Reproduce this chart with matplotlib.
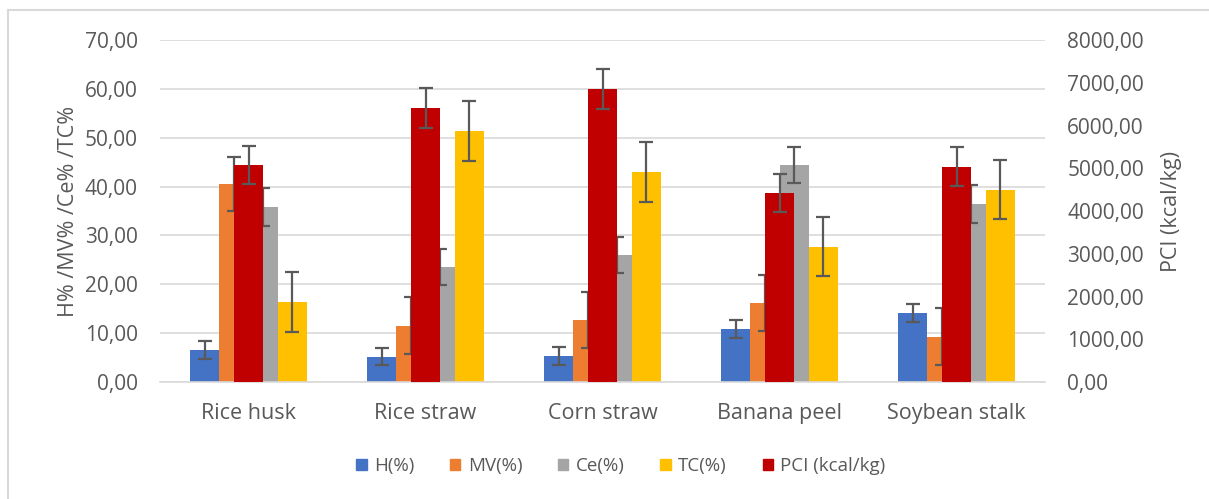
import numpy as np
import matplotlib
matplotlib.use("Agg")
import matplotlib.pyplot as plt
import matplotlib.ticker as mtick
from matplotlib.lines import Line2D
from matplotlib.patches import Patch

categories = ["Rice husk", "Rice straw", "Corn straw", "Banana peel", "Soybean stalk"]

h_pct   = [6.5, 5.2, 5.3, 10.8, 14.1]
mv_pct  = [40.5, 11.5, 12.7, 16.2, 9.3]
ce_pct  = [35.9, 23.6, 26.0, 44.4, 36.4]
tc_pct  = [16.4, 51.4, 43.0, 27.7, 39.4]
pci     = [5080, 6400, 6850, 4420, 5040]

h_err   = [1.8, 1.7, 1.9, 1.8, 1.9]
mv_err  = [5.6, 5.8, 5.8, 5.7, 5.9]
ce_err  = [3.9, 3.7, 3.75, 3.75, 3.9]
tc_err  = [6.1, 6.1, 6.1, 6.1, 6.1]
pci_err = [450, 470, 470, 450, 450]

left_series = [("H(%)", h_pct, h_err, "#4472C4"),
               ("MV(%)", mv_pct, mv_err, "#ED7D31"),
               ("Ce(%)", ce_pct, ce_err, "#A5A5A5"),
               ("TC(%)", tc_pct, tc_err, "#FFC000")]
pci_color = "#C00000"

TXT = "#595959"
ERR = "#595959"
plt.rcParams["font.family"] = ["Open Sans", "DejaVu Sans"]

fig = plt.figure(figsize=(12.09, 4.99), dpi=100)
ax = fig.add_axes([160/1209, 1 - 382/499, 885/1209, 342/499])
ax2 = ax.twinx()

x = np.arange(len(categories))
w = 0.165
offsets = [-1.5, -0.5, 0.5, 1.5]
ek = dict(ecolor=ERR, elinewidth=1.6, capsize=5, capthick=1.6)

for (name, vals, errs, col), off in zip(left_series, offsets):
    ax.bar(x + off*w, vals, w, color=col, zorder=2,
           yerr=errs, error_kw=ek)

ax2.bar(x, pci, w, color=pci_color, zorder=2, yerr=pci_err, error_kw=ek)

ax.set_xlim(-0.5, len(categories) - 0.5)
ax.set_ylim(0, 70)
ax2.set_ylim(0, 8000)
ax.set_yticks(np.arange(0, 71, 10))
ax2.set_yticks(np.arange(0, 8001, 1000))
fmt = mtick.FuncFormatter(lambda v, p: f"{v:.2f}".replace(".", ","))
ax.yaxis.set_major_formatter(fmt)
ax2.yaxis.set_major_formatter(fmt)

ax.yaxis.grid(True, color="#D9D9D9", linewidth=1.2, zorder=0)
ax.set_axisbelow(True)
for a in (ax, ax2):
    for s in a.spines.values():
        s.set_visible(False)
    a.tick_params(axis="y", length=0, colors=TXT, labelsize=15, pad=16)
ax.spines["bottom"].set_visible(True)
ax.spines["bottom"].set_color("#D9D9D9")
ax.spines["bottom"].set_linewidth(1.2)
ax.set_xticks(x)
ax.set_xticklabels(categories)
ax.tick_params(axis="x", length=0, colors=TXT, labelsize=15.5, pad=15)

ax.set_ylabel("H% /MV% /Ce% /TC%", color=TXT, fontsize=15.5, labelpad=4)
ax2.set_ylabel("PCI (kcal/kg)", color=TXT, fontsize=15.5, labelpad=12)

handles = [Patch(color=c) for _, _, _, c in left_series] + [Patch(color=pci_color)]
labels = [s[0] for s in left_series] + ["PCI (kcal/kg)"]
fig.legend(handles, labels, loc="center", bbox_to_anchor=(621/1209, 1 - 466/499),
           ncol=5, frameon=False, fontsize=13.5, labelcolor=TXT,
           handlelength=0.55, handleheight=0.55, handletextpad=0.4, columnspacing=1.9)

# light frame around the chart (top and left edges visible in the crop)
fig.add_artist(Line2D([8/1209, 1], [1 - 10/499, 1 - 10/499], color="#D9D9D9", lw=1.5))
fig.add_artist(Line2D([8/1209, 8/1209], [0, 1 - 10/499], color="#D9D9D9", lw=1.5))

fig.savefig("out.png", dpi=100)
